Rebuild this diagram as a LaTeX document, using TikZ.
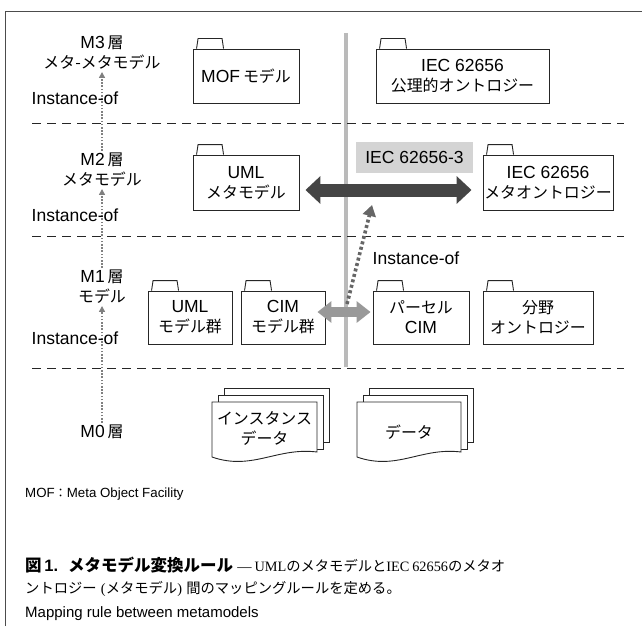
\documentclass[tikz,border=0pt]{standalone}
\usepackage{fontspec}
\setmainfont{Liberation Sans}
\newfontfamily\jp[Scale=0.91]{Noto Sans CJK JP}
\newfontfamily\jpc{Noto Sans CJK JP}
\newfontfamily\serifl{Liberation Serif}
\usetikzlibrary{arrows.meta,calc}
\tikzset{
  diag/.style={font=\fontsize{17.5}{20}\selectfont},
  folder/.style={diag, draw=black!85, line width=0.9pt, fill=white, align=center, inner sep=0pt},
  tabline/.style={draw=black!85, line width=0.9pt, fill=white},
  lbl/.style={diag, align=center, inner sep=2pt},
  sepline/.style={draw=black!85, line width=0.8pt, dash pattern=on 9pt off 6pt},
  instarrow/.style={draw=black!50, line width=1.6pt, dash pattern=on 1.6pt off 1.6pt,
    -{Triangle[length=6pt,width=6pt,fill=black!55]}},
  sheet/.style={draw=black!85, line width=0.9pt, fill=white},
  captxt/.style={anchor=base west, inner sep=0pt, font=\fontsize{14.3}{18}\selectfont},
}
\newcommand\ftab[1]{\draw[tabline] ([xshift=4pt]#1.north west) -- ++(1.5,-10) -- ++(24,0) -- ++(1.5,10);}
% document stack: #1 left, #2 top, #3 right
\newcommand\docstack[3]{%
  \draw[sheet] (#1+12,#2-14) rectangle (#3+12,442);
  \draw[sheet] (#1+6,#2-7) rectangle (#3+6,449);
  \draw[sheet] (#1,#2) -- (#3,#2) -- (#3,452) .. controls (#3-40,447) and (#1+40,471) .. (#1,457) -- cycle;}
\begin{document}
\begin{tikzpicture}[x=1pt,y=-1pt]
\useasboundingbox (0,0) rectangle (642,626);
% frame
\draw[black!70, line width=1pt] (5,626) -- (5,12) -- (642,12);
% vertical gray divider
\draw[black!27, line width=4pt] (346,33) -- (346,367);
% dashed layer separators
\draw[sepline] (32,123) -- (624,123);
\draw[sepline] (32,236) -- (624,236);
\draw[sepline] (32,368) -- (624,368);

% layer labels
\node[lbl] (m3) at (102,53) {M3\,{\jp 層}\\{\jp メタ-メタモデル}};
\node[lbl] (m2) at (102,170) {M2\,{\jp 層}\\{\jp メタモデル}};
\node[lbl] (m1) at (102,287) {M1\,{\jp 層}\\{\jp モデル}};
\node[lbl] (m0) at (102,432) {M0\,{\jp 層}};
\draw[instarrow] (m2.north) -- (m3.south);
\draw[instarrow] (m1.north) -- (m2.south);
\draw[instarrow] (m0.north) -- (m1.south);
\node[lbl] (i3) at (75,98) {Instance-of};
\node[lbl] (i2) at (75,215) {Instance-of};
\node[lbl] (i1) at (75,338) {Instance-of};

% M3 packages
\node[folder, minimum width=106pt, minimum height=54pt] (mof) at (246,76) {MOF\,{\jp モデル}};
\ftab{mof}
\node[folder, minimum width=173pt, minimum height=54pt] (iecax) at (462.5,76) {IEC 62656\\{\jp 公理的オントロジー}};
\ftab{iecax}

% M2 packages
\node[folder, minimum width=106pt, minimum height=55pt] (umlm) at (246,182.5) {UML\\{\jp メタモデル}};
\ftab{umlm}
\node[folder, minimum width=130pt, minimum height=55pt] (iecm) at (548,182.5) {IEC 62656\\{\jp メタオントロジー}};
\ftab{iecm}
\node[diag, fill=black!17, minimum width=117pt, minimum height=31pt, inner sep=0pt] (iec3) at (414.5,157.5) {IEC 62656-3};
\draw[line width=13pt, draw=black!73,
  {Triangle[length=15pt,width=27pt]}-{Triangle[length=15pt,width=27pt]}]
  ($(umlm.east)+(6,7.5)$) -- ($(iecm.west)+(-11,7.5)$);

% M1 packages
\node[folder, minimum width=84pt, minimum height=53pt] (umlg) at (190,317.5) {UML\\{\jp モデル群}};
\ftab{umlg}
\node[folder, minimum width=84pt, minimum height=53pt] (cimg) at (283,317.5) {CIM\\{\jp モデル群}};
\ftab{cimg}
\node[folder, minimum width=96pt, minimum height=53pt] (parcel) at (421,317.5) {{\jp パーセル}\\CIM};
\ftab{parcel}
\node[folder, minimum width=110pt, minimum height=53pt] (field) at (538,317.5) {{\jp 分野}\\{\jp オントロジー}};
\ftab{field}
\draw[line width=10pt, draw=black!40,
  {Triangle[length=14pt,width=21pt]}-{Triangle[length=14pt,width=21pt]}]
  ($(cimg.east)+(-8,-5.5)$) -- ($(parcel.west)+(-2,-5.5)$);

% instance-of from parcel CIM mapping to IEC 62656-3
\coordinate (dstart) at (347,304);
\coordinate (dtip) at (372,205);
\draw[line width=3.6pt, draw=black!60, dash pattern=on 3pt off 2.6pt,
  -{Triangle[length=11pt,width=13pt,fill=black!60]}] (dstart) -- (dtip);
\node[lbl] (i4) at (416,258) {Instance-of};

% M0 data
\docstack{212}{402}{317}
\node[lbl] (instd) at (264.5,428) {{\jp インスタンス}\\{\jp データ}};
\docstack{357}{402}{461}
\node[lbl] (datad) at (409,432) {{\jp データ}};

% notes and caption
\node[anchor=base west, inner sep=0pt, font=\fontsize{13.3}{16}\selectfont] (note) at (25,497) {MOF{\jp ：}Meta Object Facility};
\node[captxt] (cap1) at (25,571)
  {{\fontsize{16.5}{18}\selectfont{\jpc\bfseries 図}\,\textbf{1.}\hspace{0.6em}{\jpc\bfseries メタモデル変換ルール}}\hspace{0.3em}{\serifl —\hspace{0.2em}UML}{\jpc のメタモデルと}{\serifl IEC\hspace{0.2em}62656}{\jpc のメタオ}};
\node[captxt] (cap2) at (25,593)
  {{\jpc ントロジー}\hspace{0.3em}{\serifl (}{\jpc メタモデル}{\serifl )}\hspace{0.3em}{\jpc 間のマッピングルールを定める。}};
\node[anchor=base west, inner sep=0pt, font=\fontsize{15}{18}\selectfont] (eng) at (25,617) {Mapping rule between metamodels};
\end{tikzpicture}
\end{document}
